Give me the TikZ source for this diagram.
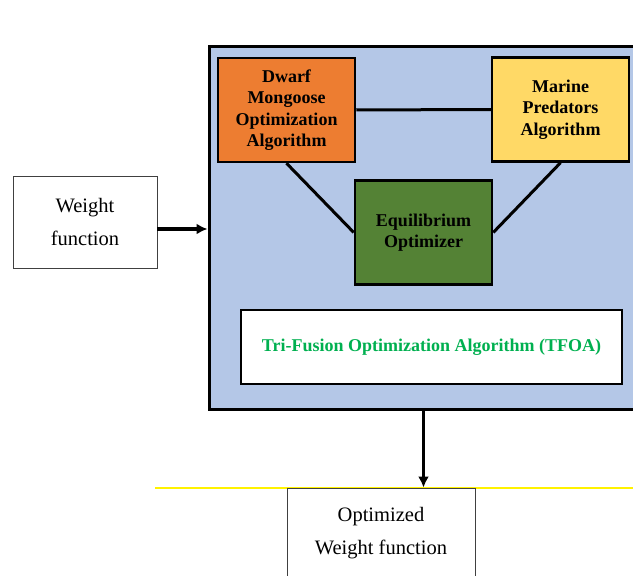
\documentclass[tikz,border=0pt]{standalone}
\usepackage{fontspec}
\setmainfont{Liberation Serif}[Ligatures=TeX]
\usetikzlibrary{arrows,arrows.meta,positioning,calc}

\definecolor{panelblue}{HTML}{B4C7E7}
\definecolor{dmoorange}{HTML}{ED7D31}
\definecolor{mpayellow}{HTML}{FFD966}
\definecolor{eogreen}{HTML}{548235}
\definecolor{tfoagreen}{HTML}{00B050}

\begin{document}
\begin{tikzpicture}[x=1pt,y=1pt,>={Latex[length=11pt,width=11pt]},semithick]
            % Define the styles for the blocks
            \tikzstyle{outer} = [rectangle, draw, fill=panelblue, line width=3pt, minimum width=451, minimum height=363]
            \tikzstyle{algo} = [rectangle, draw, line width=2.5pt, minimum width=137, minimum height=104, text centered, align=center, font=\rmfamily\fontsize{18}{21.5}\selectfont\bfseries]
            \tikzstyle{plainbox} = [rectangle, draw=black!75, fill=white, line width=0.9pt, minimum width=144, minimum height=92, text centered, align=center, font=\rmfamily\fontsize{20.5}{33}\selectfont]
            \tikzstyle{fusion} = [rectangle, draw, fill=white, line width=2.5pt, minimum width=381, minimum height=74, text=tfoagreen, font=\rmfamily\fontsize{18}{21.5}\selectfont\bfseries]

            \useasboundingbox (0,0) rectangle (633,576);
            \clip (0,0) rectangle (633,576);

            % Nodes position
            \node [outer] (tfoa) at (434.5,347.5) {};
            \node [plainbox] (weight) at (85,354) {Weight\\function};
            \node [algo, fill=dmoorange] (dmoa) at (286.5,466) {Dwarf\\Mongoose\\Optimization\\Algorithm};
            \node [algo, fill=mpayellow] (mpa) at (560.5,466.5) {Marine\\Predators\\Algorithm};
            \node [algo, fill=eogreen] (eo) at (423.5,343.5) {Equilibrium\\Optimizer};
            \node [fusion] (tfoatext) at (431.5,229) {Tri-Fusion Optimization Algorithm (TFOA)};

            % Yellow rule behind the output block
            \draw[yellow, line width=1.4pt] (155,88) -- (640,88);
            \node [plainbox, minimum width=188, minimum height=90] (optim) at (381,43) {Optimized\\Weight function};

            % Links between the three optimizers
            \draw[line width=3pt] (dmoa) -- (mpa);
            \draw[line width=3pt] (dmoa.south) -- (eo.west);
            \draw[line width=3pt] (mpa.south) -- (eo.east);

            % Arrows
            \draw[->, line width=3.2pt] ([yshift=-7]weight.east) -- ([yshift=-7]weight.east -| tfoa.west);
            \draw[->, line width=3.2pt] (tfoa.south -| eo) -- (optim.north -| eo);
        \end{tikzpicture}
\end{document}
